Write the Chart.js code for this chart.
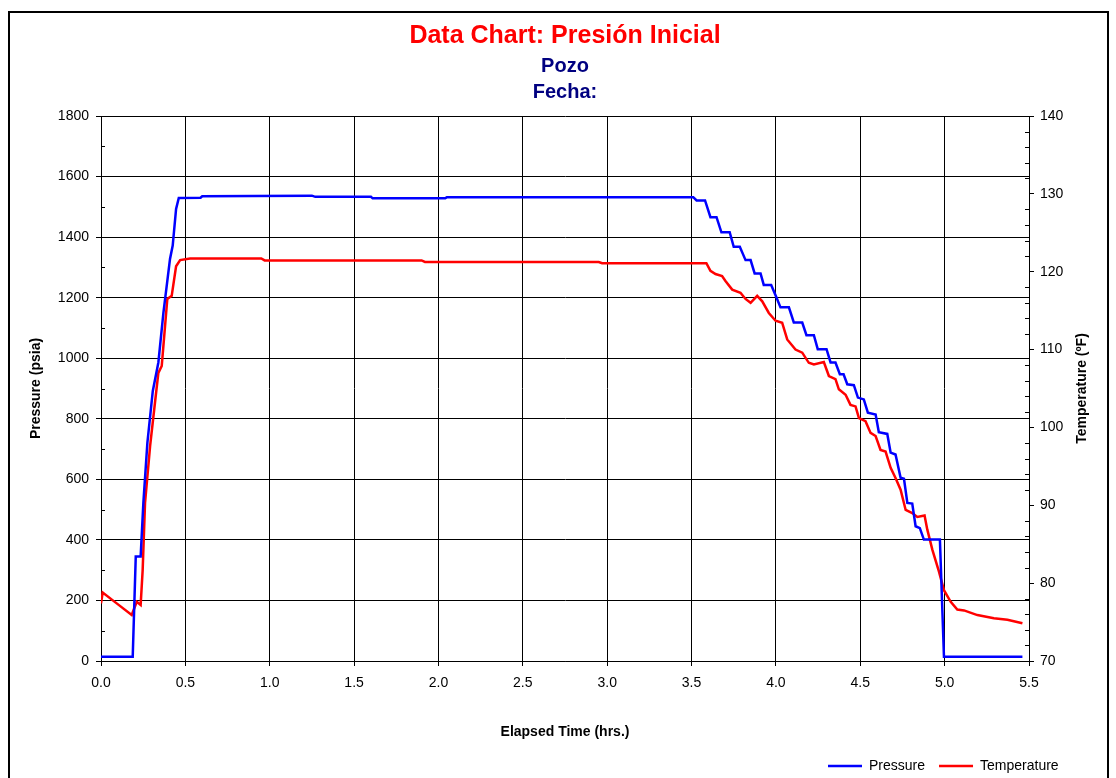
<!DOCTYPE html>
<html>
<head>
<meta charset="utf-8">
<script src="https://cdn.jsdelivr.net/npm/chart.js@4.4.1/dist/chart.umd.min.js"></script>
<style>
  body { margin: 0; background: #fff; }
  #chart { position: absolute; left: 0; top: 0; }
  #frame { position: absolute; left: 8px; top: 11px; width: 1097px; height: 800px; border: 2px solid #000; pointer-events: none; }
</style>
</head>
<body>
<canvas id="chart" width="1116" height="778"></canvas>
<div id="frame"></div>
<script>
// elapsed time (hrs.) / pressure (psia)
var pressureTime = [0, 0.188, 0.206, 0.235, 0.251, 0.275, 0.307, 0.34, 0.37, 0.409,
	0.425, 0.445, 0.461, 0.59, 0.6, 0.9, 1.25, 1.27, 1.6, 1.61,
	2.04, 2.05, 3.51, 3.53, 3.58, 3.612, 3.648, 3.677, 3.726, 3.75,
	3.786, 3.82, 3.85, 3.874, 3.909, 3.928, 3.972, 4.004, 4.027, 4.077,
	4.106, 4.156, 4.181, 4.225, 4.248, 4.3, 4.324, 4.353, 4.379, 4.401,
	4.423, 4.462, 4.486, 4.521, 4.545, 4.591, 4.61, 4.66, 4.68, 4.709,
	4.739, 4.759, 4.779, 4.808, 4.828, 4.853, 4.877, 4.972, 4.996, 5.461];
var pressureValues = [14, 14, 345, 345, 522, 721, 892, 986, 1151, 1328,
	1372, 1493, 1529, 1530, 1535, 1536, 1537, 1533, 1533, 1528,
	1528, 1532, 1532, 1521, 1521, 1466, 1466, 1416, 1416, 1368,
	1368, 1324, 1324, 1280, 1280, 1242, 1242, 1200, 1168, 1168,
	1118, 1118, 1076, 1076, 1030, 1030, 986, 986, 947, 947,
	914, 911, 870, 864, 820, 814, 756, 750, 688, 682,
	605, 602, 522, 520, 445, 439, 401, 401, 14, 14];

// elapsed time (hrs.) / temperature (ºF)
var tempTime = [0, 0.01, 0.093, 0.182, 0.212, 0.235, 0.247, 0.261, 0.291, 0.32,
	0.34, 0.36, 0.393, 0.419, 0.445, 0.469, 0.528, 0.95, 0.97, 1.9,
	1.92, 2.95, 2.97, 3.588, 3.612, 3.642, 3.681, 3.701, 3.741, 3.79,
	3.82, 3.85, 3.889, 3.919, 3.958, 3.998, 4.037, 4.067, 4.116, 4.156,
	4.195, 4.225, 4.284, 4.314, 4.353, 4.373, 4.413, 4.442, 4.472, 4.492,
	4.531, 4.561, 4.591, 4.62, 4.65, 4.68, 4.709, 4.739, 4.769, 4.808,
	4.838, 4.881, 4.897, 4.927, 4.966, 4.996, 5.036, 5.075, 5.115, 5.194,
	5.292, 5.372, 5.461];
var tempValues = [77.4, 78.8, 77.4, 75.9, 77.6, 77.2, 81.7, 90.3, 97.6, 103.2,
	107.0, 107.9, 116.5, 116.9, 120.7, 121.5, 121.7, 121.7, 121.45, 121.45,
	121.25, 121.25, 121.1, 121.1, 120.1, 119.7, 119.45, 118.8, 117.7, 117.3,
	116.5, 116.0, 116.9, 116.2, 114.7, 113.7, 113.45, 111.3, 110.0, 109.6,
	108.3, 108.1, 108.4, 106.6, 106.2, 104.9, 104.2, 102.9, 102.7, 101.2,
	100.8, 99.3, 98.9, 97.1, 96.9, 94.8, 93.5, 92.0, 89.4, 89.0,
	88.5, 88.7, 86.9, 84.3, 81.5, 79.1, 77.6, 76.6, 76.5, 75.9,
	75.5, 75.3, 74.85];

var xTicks = { min: 0, max: 5.5, step: 0.5 };
var pTicks = { min: 0, max: 1800, step: 200, minor: 100 };
var tTicks = { min: 70, max: 140, step: 10, minor: 2 };
var tempTitle = 'Temperature (ºF)';

function toPoints(xs, ys) {
	var pts = [];
	for (var i = 0; i < xs.length; i++) pts.push({ x: xs[i], y: ys[i] });
	return pts;
}

var FONT = "'Liberation Sans', Arial, sans-serif";

// small tick marks between the labelled ones
var minorTicks = {
	id: 'minorTicks',
	afterDraw: function(chart) {
		var ctx = chart.ctx;
		var y = chart.scales.y, y2 = chart.scales.y2;
		ctx.save();
		ctx.strokeStyle = '#000';
		ctx.lineWidth = 1;
		ctx.beginPath();
		for (var v = pTicks.min + pTicks.minor; v < pTicks.max; v += pTicks.step) {
			var py = Math.round(y.getPixelForValue(v)) + 0.5;
			ctx.moveTo(y.right, py);
			ctx.lineTo(y.right + 4, py);
		}
		for (var t = tTicks.min + tTicks.minor; t < tTicks.max; t += tTicks.minor) {
			if (t % tTicks.step === 0) continue;
			var ty = Math.round(y2.getPixelForValue(t)) + 0.5;
			ctx.moveTo(y2.left - 4, ty);
			ctx.lineTo(y2.left, ty);
		}
		ctx.stroke();

		// right axis title reads bottom-to-top like the left one
		var area = chart.chartArea;
		ctx.translate(y2.right - 24, (area.top + area.bottom) / 2);
		ctx.rotate(-Math.PI / 2);
		ctx.fillStyle = '#000';
		ctx.font = 'bold 14px ' + FONT;
		ctx.textAlign = 'center';
		ctx.textBaseline = 'middle';
		ctx.fillText(tempTitle, 0, 0);
		ctx.restore();
	}
};

// put the legend at the lower right, under the right axis
var legendPlace = {
	id: 'legendPlace',
	afterLayout: function(chart) {
		var lg = chart.legend;
		var w = lg.lineWidths[0];
		lg.left = 828;
		lg.right = 828 + w;
		lg.width = w;
		var h = lg.height;
		lg.top = 766 - 7 - 14;
		lg.bottom = lg.top + h;
	}
};

var context = document.getElementById('chart').getContext('2d');
var chart = new Chart(context, {
	type: 'scatter',
	data: {
		datasets: [{
			label: 'Pressure',
			data: toPoints(pressureTime, pressureValues),
			yAxisID: 'y',
			showLine: true,
			borderColor: '#0000FF',
			backgroundColor: '#0000FF',
			borderWidth: 2.5,
			pointRadius: 0,
			tension: 0
		}, {
			label: 'Temperature',
			data: toPoints(tempTime, tempValues),
			yAxisID: 'y2',
			showLine: true,
			borderColor: '#FF0000',
			backgroundColor: '#FF0000',
			borderWidth: 2.5,
			pointRadius: 0,
			tension: 0
		}]
	},
	options: {
		responsive: false,
		animation: false,
		layout: { padding: { left: 10, right: 10, top: 10, bottom: 0 } },
		plugins: {
			tooltip: { enabled: false },
			title: {
				display: true,
				fullSize: false,
				text: 'Data Chart: Presión Inicial',
				color: '#FF0000',
				font: { family: FONT, size: 25, weight: 'bold', lineHeight: 1.2 },
				padding: { top: 11, bottom: 0 }
			},
			subtitle: {
				display: true,
				fullSize: false,
				text: ['Pozo', 'Fecha:'],
				color: '#000080',
				font: { family: FONT, size: 20, weight: 'bold', lineHeight: 1.3 },
				padding: { top: 2, bottom: 11 }
			},
			legend: {
				position: 'bottom',
				align: 'end',
				labels: {
					color: '#000',
					font: { family: FONT, size: 14 },
					usePointStyle: true,
					pointStyle: 'line',
					pointStyleWidth: 34,
					boxHeight: 14,
					padding: 14
				}
			}
		},
		scales: {
			x: {
				type: 'linear',
				min: xTicks.min,
				max: xTicks.max,
				afterFit: function(s) { s.height = 778 - 661 - s.chart.legend.height; },
				ticks: {
					stepSize: xTicks.step,
					color: '#000',
					font: { family: FONT, size: 14 },
					padding: 9,
					maxRotation: 0,
					callback: function(v) { return v.toFixed(1); }
				},
				grid: { color: '#000', lineWidth: 1, tickLength: 5 },
				border: { color: '#000', width: 1 },
				title: {
					display: true,
					text: 'Elapsed Time (hrs.)',
					color: '#000',
					font: { family: FONT, size: 14, weight: 'bold' },
					padding: { top: 0, bottom: -1 }
				}
			},
			y: {
				type: 'linear',
				position: 'left',
				min: pTicks.min,
				max: pTicks.max,
				afterFit: function(s) { s.width = 91; },
				ticks: {
					stepSize: pTicks.step,
					color: '#000',
					font: { family: FONT, size: 14 },
					padding: 7,
					callback: function(v) { return String(v); }
				},
				grid: { color: '#000', lineWidth: 1, tickLength: 5 },
				border: { color: '#000', width: 1 },
				title: {
					display: true,
					text: 'Pressure (psia)',
					color: '#000',
					font: { family: FONT, size: 14, weight: 'bold' },
					padding: { top: 18, bottom: 0 }
				}
			},
			y2: {
				type: 'linear',
				position: 'right',
				min: tTicks.min,
				max: tTicks.max,
				afterFit: function(s) { s.width = 77; },
				ticks: {
					stepSize: tTicks.step,
					color: '#000',
					font: { family: FONT, size: 14 },
					padding: 6,
					callback: function(v) { return String(v); }
				},
				grid: { drawOnChartArea: false, color: '#000', lineWidth: 1, tickLength: 5 },
				border: { color: '#000', width: 1 },
				title: { display: false }
			}
		}
	},
	plugins: [minorTicks, legendPlace]
});
</script>
</body>
</html>
